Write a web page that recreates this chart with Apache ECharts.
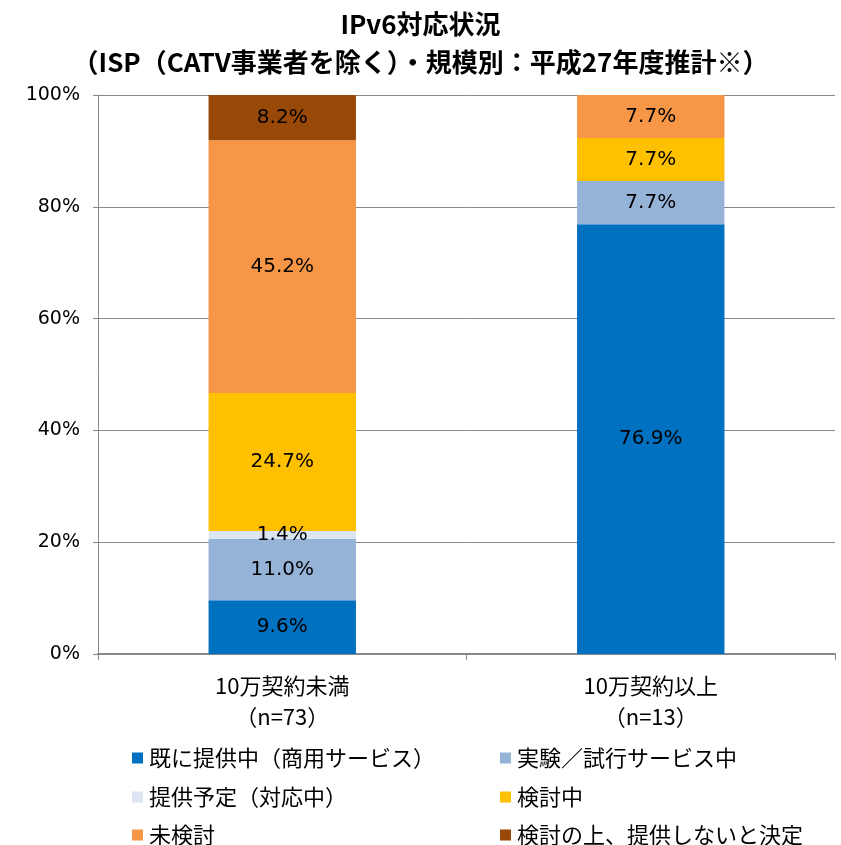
<!DOCTYPE html>
<html>
<head>
<meta charset="utf-8">
<script src="https://cdn.jsdelivr.net/npm/echarts@6/dist/echarts.min.js"></script>
<style>
  html, body { margin: 0; padding: 0; background: #fff; }
  #chart { width: 841px; height: 845px; }
</style>
</head>
<body>
<div id="chart"></div>
<script>
// 数据
const categories = ['10万契約未満\n（n=73）', '10万契約以上\n（n=13）'];
const seriesNames = ['既に提供中（商用サービス）', '実験／試行サービス中', '提供予定（対応中）', '検討中', '未検討', '検討の上、提供しないと決定'];
const seriesColors = ['#0070C0', '#95B3D7', '#DCE6F2', '#FFC000', '#F79646', '#984807'];
const provided = [9.6, 76.9];
const trial = [11.0, 7.7];
const planned = [1.4, null];
const considering = [24.7, 7.7];
const notConsidered = [45.2, 7.7];
const decidedNot = [8.2, null];
const yTicks = [0, 20, 40, 60, 80, 100];

const seriesData = [provided, trial, planned, considering, notConsidered, decidedNot];

const chart = echarts.init(document.getElementById('chart'));

const numFont = '"DejaVu Sans", sans-serif';
const jpFont = '"Noto Sans CJK JP", sans-serif';

// 凡例: 2列 x 3行, 1項目ずつ配置
const legendLeft = [132, 500];
const legendTop = [747, 786, 824];
const legends = seriesNames.map((name, i) => ({
    data: [name],
    left: legendLeft[i % 2],
    top: legendTop[Math.floor(i / 2)],
    itemWidth: 11, itemHeight: 11, icon: 'rect', itemGap: 0,
    padding: 0,
    textStyle: { fontFamily: jpFont, fontSize: 22, color: '#000', padding: [0, 0, 0, 1] }
}));

const option = {
    animation: false,
    title: {
        text: 'IPv6対応状況\n（ISP（CATV事業者を除く）・規模別：平成27年度推計※）',
        left: 'center',
        top: 0,
        textStyle: { fontFamily: jpFont, fontWeight: 'bold', fontSize: 26, lineHeight: 38, color: '#000' }
    },
    grid: { left: 98, right: 6, top: 95, bottom: 191 },
    legend: legends,
    xAxis: {
        type: 'category',
        data: categories,
        axisLine: { lineStyle: { color: '#888', width: 2 } },
        axisTick: { show: true, length: 6, lineStyle: { color: '#888' } },
        axisLabel: { fontFamily: jpFont, fontSize: 22, color: '#000', lineHeight: 31, margin: 16 }
    },
    yAxis: {
        type: 'value',
        min: 0, max: 100, interval: 20,
        axisLine: { show: true, lineStyle: { color: '#888', width: 1 } },
        axisTick: { show: true, length: 5, lineStyle: { color: '#888' } },
        splitLine: { lineStyle: { color: '#888', width: 1 } },
        axisLabel: {
            fontFamily: numFont, fontSize: 19, color: '#000', margin: 18,
            formatter: v => yTicks.includes(v) ? v + '%' : ''
        }
    },
    series: seriesNames.map((name, i) => ({
        name: name,
        type: 'bar',
        stack: 'total',
        barWidth: '40%',
        data: seriesData[i],
        itemStyle: { color: seriesColors[i] },
        label: {
            show: true,
            position: 'inside',
            fontFamily: numFont,
            fontSize: 20,
            color: '#000',
            formatter: p => p.value == null ? '' : p.value.toFixed(1) + '%'
        }
    }))
};

chart.setOption(option);
</script>
</body>
</html>
